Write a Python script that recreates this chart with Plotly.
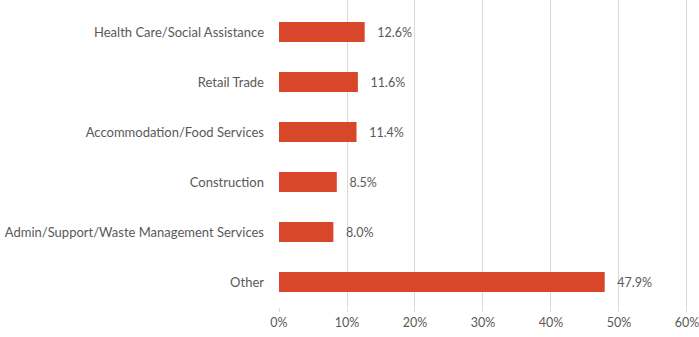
import plotly.graph_objects as go

categories = ["Health Care/Social Assistance", "Retail Trade", "Accommodation/Food Services",
              "Construction", "Admin/Support/Waste Management Services", "Other"]
values = [12.6, 11.6, 11.4, 8.5, 8.0, 47.9]
tick_vals = [0, 10, 20, 30, 40, 50, 60]
tick_text = ["0%", "10%", "20%", "30%", "40%", "50%", "60%"]

fig = go.Figure(go.Bar(
    x=values, y=categories, orientation="h",
    marker=dict(color="#D9472B", line=dict(width=0)),
    text=[f"   {v:.1f}%" for v in values], textposition="outside",
    textfont=dict(color="#595959", size=12.5, family="Lato"),
    cliponaxis=False,
))
fig.update_layout(
    width=699, height=337,
    margin=dict(l=279, r=11, t=0, b=30, autoexpand=False),
    paper_bgcolor="white", plot_bgcolor="white",
    bargap=0.6, showlegend=False,
    font=dict(family="Lato", color="#595959", size=12),
)
fig.update_xaxes(range=[0, 60.15], tickvals=tick_vals, ticktext=tick_text, automargin=False,
                 ticklabeloverflow="allow",
                 showgrid=True, gridcolor="#D9D9D9", gridwidth=1, zeroline=False,
                 showline=False, ticks="outside", ticklen=4, tickcolor="#D9D9D9",
                 tickfont=dict(size=12.5, color="#595959"), fixedrange=True)
fig.update_yaxes(categoryorder="array", categoryarray=categories[::-1], automargin=False,
                 range=[-0.5, 5.64],
                 showgrid=False, showline=False, ticklabelstandoff=14,
                 tickfont=dict(size=13, color="#595959"))
fig.write_html("out.html", config={"displayModeBar": False},
               post_script="document.body.style.margin='0';")
